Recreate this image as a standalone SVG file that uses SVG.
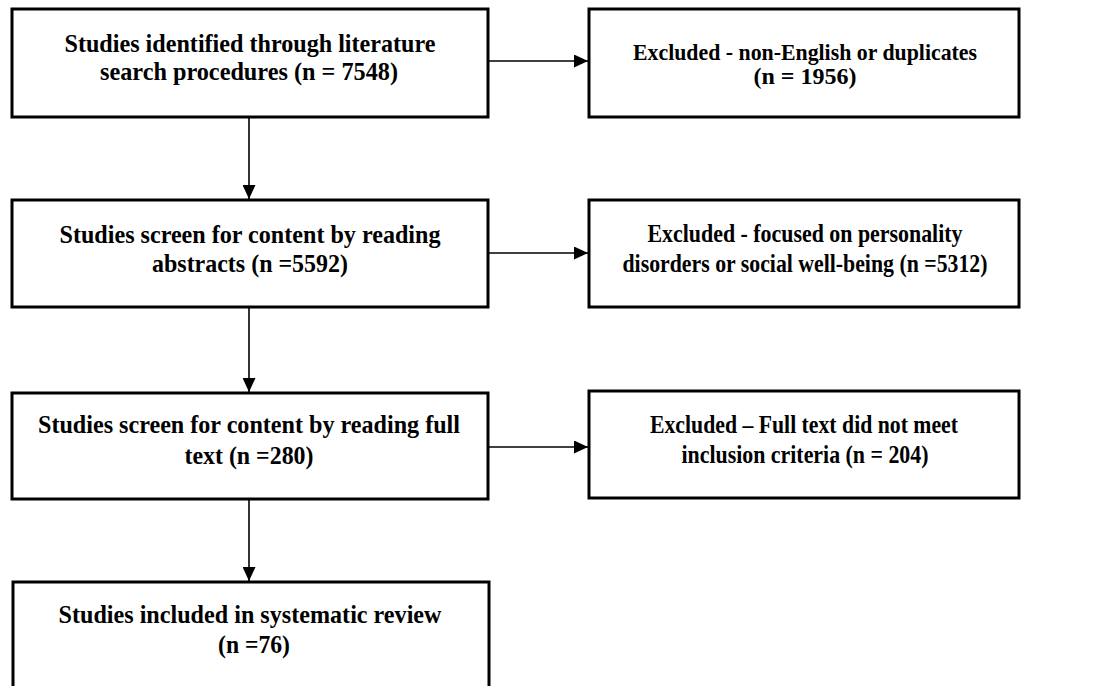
<svg xmlns="http://www.w3.org/2000/svg" width="1119" height="686" viewBox="0 0 1119 686">
<defs>
<style>
.box{fill:#fff;stroke:#000;stroke-width:3}
.t{font-family:"Liberation Serif","Times New Roman",serif;font-size:26px;font-weight:bold;fill:#000;text-anchor:middle}
.s{font-size:24px}
.c{stroke:#000;stroke-width:1.6;fill:none}
</style>
<marker id="ah" viewBox="0 0 14 13" refX="14" refY="6.5" markerWidth="14" markerHeight="13" markerUnits="userSpaceOnUse" orient="auto">
<path d="M0,0 L14,6.5 L0,13 Z" fill="#000"/>
</marker>
</defs>
<rect width="1119" height="686" fill="#fff"/>
<g id="connectors">
<line class="c" x1="249" y1="117" x2="249" y2="199" marker-end="url(#ah)"/>
<line class="c" x1="249" y1="307" x2="249" y2="392" marker-end="url(#ah)"/>
<line class="c" x1="249" y1="499" x2="249" y2="581" marker-end="url(#ah)"/>
<line class="c" x1="488" y1="61" x2="588" y2="61" marker-end="url(#ah)"/>
<line class="c" x1="488" y1="253" x2="588" y2="253" marker-end="url(#ah)"/>
<line class="c" x1="488" y1="447" x2="588" y2="447" marker-end="url(#ah)"/>
</g>
<g id="n1">
<rect class="box" x="12" y="9" width="476" height="108"/>
<text class="t" x="250" y="52" textLength="371" lengthAdjust="spacingAndGlyphs">Studies identified through literature</text>
<text class="t" x="249" y="80" textLength="298" lengthAdjust="spacingAndGlyphs">search procedures (n = 7548)</text>
</g>
<g id="e1">
<rect class="box" x="589" y="9" width="430" height="108"/>
<text class="t s" x="805" y="60" textLength="344" lengthAdjust="spacingAndGlyphs">Excluded - non-English or duplicates</text>
<text class="t s" x="805" y="84">(n = 1956)</text>
</g>
<g id="n2">
<rect class="box" x="12" y="200" width="476" height="107"/>
<text class="t" x="250" y="243" textLength="381" lengthAdjust="spacingAndGlyphs">Studies screen for content by reading</text>
<text class="t" x="250" y="272" textLength="196" lengthAdjust="spacingAndGlyphs">abstracts (n =5592)</text>
</g>
<g id="e2">
<rect class="box" x="589" y="200" width="430" height="107"/>
<text class="t" x="805" y="242" textLength="315" lengthAdjust="spacingAndGlyphs">Excluded - focused on personality</text>
<text class="t" x="805" y="272" textLength="365" lengthAdjust="spacingAndGlyphs">disorders or social well-being (n =5312)</text>
</g>
<g id="n3">
<rect class="box" x="12" y="393" width="476" height="106"/>
<text class="t" x="249" y="433" textLength="422" lengthAdjust="spacingAndGlyphs">Studies screen for content by reading full</text>
<text class="t" x="249" y="464" textLength="129" lengthAdjust="spacingAndGlyphs">text (n =280)</text>
</g>
<g id="e3">
<rect class="box" x="589" y="391" width="430" height="107"/>
<text class="t" x="804" y="433" textLength="308" lengthAdjust="spacingAndGlyphs">Excluded – Full text did not meet</text>
<text class="t" x="805" y="463" textLength="247" lengthAdjust="spacingAndGlyphs">inclusion criteria (n = 204)</text>
</g>
<g id="n4">
<rect class="box" x="13" y="582" width="476" height="120"/>
<text class="t" x="250" y="623" textLength="383" lengthAdjust="spacingAndGlyphs">Studies included in systematic review</text>
<text class="t" x="254" y="653" textLength="72" lengthAdjust="spacingAndGlyphs">(n =76)</text>
</g>
</svg>
